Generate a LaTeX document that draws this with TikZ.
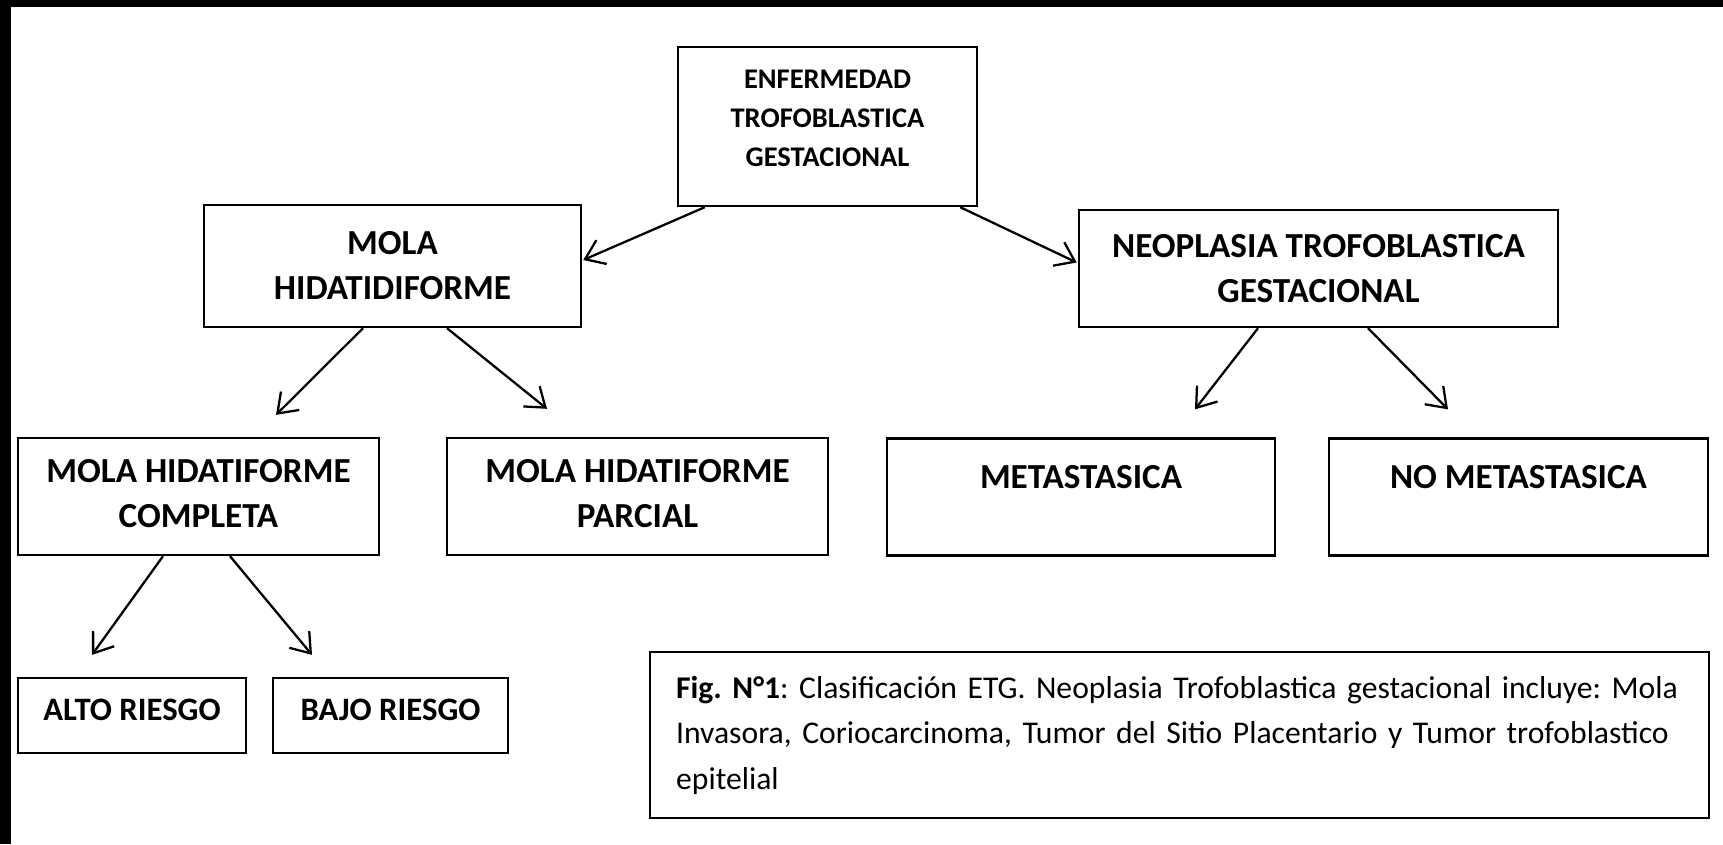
\documentclass[tikz,border=0pt]{standalone}
\usepackage{fontspec}
\setmainfont{Carlito}
\usepackage{tikz}
\usetikzlibrary{arrows.meta, positioning, calc}
\tikzstyle{box} = [rectangle, minimum height=1.17cm, text centered, align=center, inner sep=0pt, draw=black, line width=0.65pt, font=\bfseries\fontsize{10}{12.8}\selectfont]
\tikzstyle{riskbox} = [box, minimum height=0.75cm, text depth=0.11cm, font=\bfseries\fontsize{9.3}{11}\selectfont]
\tikzstyle{arrow} = [line width=0.65pt,->,>={Straight Barb[length=1.8mm,width=2.6mm]}]

\begin{document}
\begin{tikzpicture}[x=0.01cm, y=-0.01cm]
\useasboundingbox (0,0) rectangle (1723,844);
\fill[black] (0,0) rectangle (11,844);
\fill[black] (0,0) rectangle (1723,7);

% Root
\node (etg) [box, minimum width=2.99cm, minimum height=1.59cm, text depth=0.16cm, font=\bfseries\fontsize{8.1}{11.1}\selectfont] at (827.5,126.5) {ENFERMEDAD\\TROFOBLASTICA\\GESTACIONAL};

% Second level
\node (mola) [box, minimum width=3.77cm, minimum height=1.22cm] at (392.5,266) {MOLA\\HIDATIDIFORME};
\node (neo) [box, minimum width=4.79cm] at (1318.5,268.5) {NEOPLASIA TROFOBLASTICA\\GESTACIONAL};

% Third level
\node (mhc) [box, minimum width=3.61cm, text depth=0.06cm] at (198.5,496.5) {MOLA HIDATIFORME\\COMPLETA};
\node (mhp) [box, minimum width=3.81cm, text depth=0.06cm] at (637.5,496.5) {MOLA HIDATIFORME\\PARCIAL};
\node (met) [box, minimum width=3.88cm, text depth=0.4cm] at (1081,497) {METASTASICA};
\node (nomet) [box, minimum width=3.79cm, text depth=0.4cm] at (1518.5,497) {NO METASTASICA};

% Risk
\node (alto) [riskbox, minimum width=2.28cm] at (132,715.5) {ALTO RIESGO};
\node (bajo) [riskbox, minimum width=2.35cm] at (390.5,715.5) {BAJO RIESGO};

% Caption
\node (fig) [draw=black, line width=0.65pt, anchor=north west, minimum height=1.66cm, text width=10.06cm, inner xsep=0.26cm, align=left, font=\frenchspacing\fontsize{9}{12.95}\selectfont] at (649,651) {\textbf{Fig. N°1}: Clasificación ETG. Neoplasia Trofoblastica gestacional incluye: Mola\\Invasora, Coriocarcinoma, Tumor del Sitio Placentario y Tumor trofoblastico\\epitelial};

% Arrows
\draw [arrow] ($(etg.south west)+(28,0)$) -- ($(mola.east)+(1,-6)$);
\draw [arrow] ($(etg.south east)+(-18,0)$) -- ($(neo.west)+(-1,-6)$);
\draw [arrow] ($(mola.south)+(-29.5,0)$) -- ($(mhc.north)+(77.5,-22)$);
\draw [arrow] ($(mola.south)+(54.5,0)$) -- ($(mhp.north)+(-90.5,-28)$);
\draw [arrow] ($(neo.south)+(-60.5,0)$) -- ($(met.north)+(114,-28)$);
\draw [arrow] ($(neo.south)+(49.5,0)$) -- ($(nomet.north)+(-70.5,-28)$);
\draw [arrow] ($(mhc.south)+(-35.5,0)$) -- ($(alto.north)+(-40,-22)$);
\draw [arrow] ($(mhc.south)+(31.5,0)$) -- ($(bajo.north)+(-78.5,-22)$);

\end{tikzpicture}
\end{document}
